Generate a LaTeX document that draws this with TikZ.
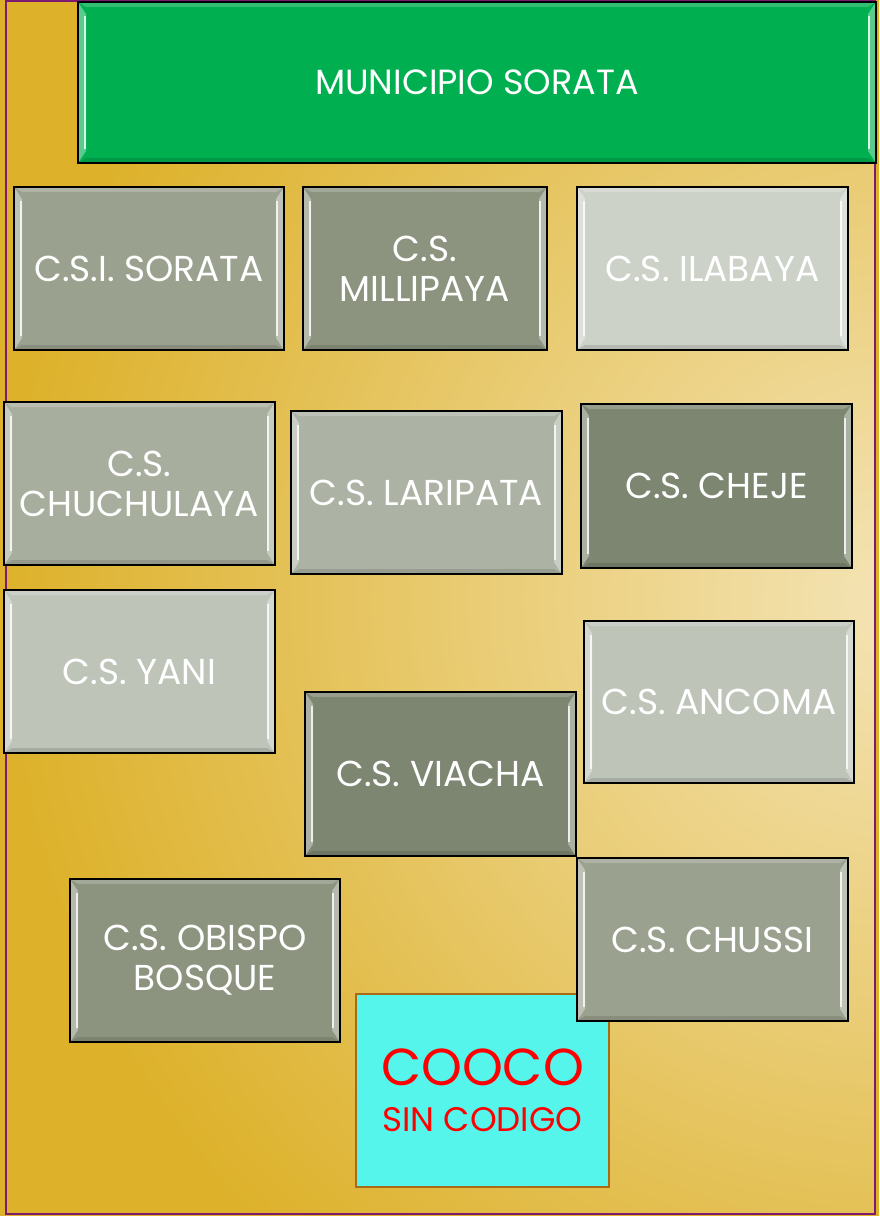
\documentclass[tikz,border=0pt]{standalone}
\usepackage{fontspec}
\setmainfont{Poppins}
\usetikzlibrary{calc}
\definecolor{goldA}{HTML}{DDB12A}
\definecolor{goldB}{HTML}{F4E4B6}
\definecolor{frameP}{HTML}{7B1A6E}
\definecolor{greenB}{HTML}{00B050}
\definecolor{gA}{HTML}{9BA18F}
\definecolor{gB}{HTML}{8C9480}
\definecolor{gC}{HTML}{CDD2C9}
\definecolor{gD}{HTML}{A8AE9E}
\definecolor{gE}{HTML}{ADB3A4}
\definecolor{gF}{HTML}{7D8671}
\definecolor{gG}{HTML}{BFC4B9}
\definecolor{cyanB}{HTML}{55F5EC}
\definecolor{brownB}{HTML}{A86A14}
\newcommand\bevel[1]{%
  \fill[white,opacity=0.35] (#1.north west) -- ($(#1.north west)+(8,-12)$) -- ($(#1.south west)+(8,12)$) -- (#1.south west) -- cycle;
  \fill[white,opacity=0.35] (#1.north east) -- ($(#1.north east)+(-8,-12)$) -- ($(#1.south east)+(-8,12)$) -- (#1.south east) -- cycle;
  \fill[white,opacity=0.2] (#1.north west) -- ($(#1.north west)+(8,-5)$) -- ($(#1.north east)+(-8,-5)$) -- (#1.north east) -- cycle;
  \fill[black,opacity=0.12] (#1.south west) -- ($(#1.south west)+(8,5)$) -- ($(#1.south east)+(-8,5)$) -- (#1.south east) -- cycle;
  \draw[white,opacity=0.8,line width=2.5] ($(#1.north west)+(7,-14)$) -- ($(#1.south west)+(7,14)$);
  \draw[white,opacity=0.8,line width=2.5] ($(#1.north east)+(-7,-14)$) -- ($(#1.south east)+(-7,14)$);
  \draw[black,line width=1.8] (#1.north west) rectangle (#1.south east);
}
\begin{document}
\begin{tikzpicture}[x=1pt,y=1pt,
  cbox/.style={rectangle,outer sep=0pt,inner sep=0pt,text=white,align=center,
    font=\fontsize{36}{40}\selectfont}]
\useasboundingbox (0,0) rectangle (879,-1216);
\fill[goldA] (0,0) rectangle (879,-1216);
\begin{scope}
  \clip (6,-1) rectangle (875,-1214);
  \shade[inner color=goldB,outer color=goldA] (900,-600) circle (900);
\end{scope}
\draw[frameP,line width=2] (6,-1) rectangle (875,-1214);
% top box
\node[cbox,fill=greenB,minimum width=798,minimum height=161,font=\fontsize{35}{40}\selectfont] (mun) at (477,-82.5) {MUNICIPIO SORATA};
\bevel{mun}
% row 1
\node[cbox,fill=gA,minimum width=270,minimum height=163] (sor) at (149,-268.5) {C.S.I. SORATA};
\bevel{sor}
\node[cbox,fill=gB,minimum width=244,minimum height=163] (mil) at (425,-268.5) {C.S.\\MILLIPAYA};
\bevel{mil}
\node[cbox,fill=gC,minimum width=271,minimum height=163] (ila) at (712.5,-268.5) {C.S. ILABAYA};
\bevel{ila}
% row 2
\node[cbox,fill=gD,minimum width=271,minimum height=163] (chu) at (139.5,-483.5) {C.S.\\CHUCHULAYA};
\bevel{chu}
\node[cbox,fill=gE,minimum width=271,minimum height=163] (lar) at (426.5,-492.5) {C.S. LARIPATA};
\bevel{lar}
\node[cbox,fill=gF,minimum width=271,minimum height=164] (che) at (716.5,-486) {C.S. CHEJE};
\bevel{che}
% row 3
\node[cbox,fill=gG,minimum width=271,minimum height=163] (yan) at (139.5,-671.5) {C.S. YANI};
\bevel{yan}
\node[cbox,fill=gG,minimum width=270,minimum height=162] (anc) at (719,-702) {C.S. ANCOMA};
\bevel{anc}
\node[cbox,fill=gF,minimum width=271,minimum height=164] (via) at (440.5,-774) {C.S. VIACHA};
\bevel{via}
% row 4
\node[cbox,fill=gB,minimum width=270,minimum height=163] (obi) at (205,-960.5) {C.S. OBISPO\\BOSQUE};
\bevel{obi}
\node[rectangle,outer sep=0pt,inner sep=0pt,fill=cyanB,draw=brownB,line width=2.5,
  minimum width=253,minimum height=193,align=center,text=red,
  font=\fontsize{34}{46}\selectfont] (coo) at (482.5,-1090.5)
  {{\fontsize{52}{46}\selectfont COOCO}\\SIN CODIGO};
\node[cbox,fill=gA,minimum width=271,minimum height=163] (chs) at (712.5,-939.5) {C.S. CHUSSI};
\bevel{chs}
\end{tikzpicture}
\end{document}
